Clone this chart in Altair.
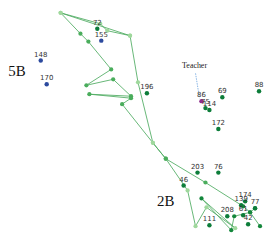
import altair as alt
import pandas as pd

# ---- data (same units on both axes, y grows downward) ----
# movement trajectory A
path_a_x = [131, 61, 81, 89, 112, 87, 114, 132, 90, 132, 123, 154, 167, 189, 197, 208, 237, 203, 233, 236, 252, 262]
path_a_y = [35, 12, 33, 41, 69, 85, 79, 96, 94, 98, 104, 143, 159, 191, 227, 208, 229, 199, 231, 217, 213, 227]
path_a_shade = ["l", "l", "m", "m", "m", "m", "m", "m", "m", "m", "m", "l", "m", "l", "l", "l", "l", "d", "d", "d", "d", "d"]
# movement trajectory B
path_b_x = [61, 101, 108, 131, 139, 154, 167, 207, 245, 252, 257]
path_b_y = [12, 23, 30, 35, 82, 143, 159, 183, 207, 213, 209]
path_b_shade = ["l", "l", "l", "l", "l", "l", "m", "m", "d", "d", "d"]

# students of class 5B
b5_ids = ["148", "170", "155"]
b5_x = [41, 47, 102]
b5_y = [60, 84, 40]
# students of class 2B
b2_ids = ["72", "196", "69", "88", "75", "114", "172", "203", "76", "46",
          "174", "139", "77", "61", "208", "42", "111"]
b2_x = [98, 148, 224, 261, 207, 211, 220, 199, 220, 185, 247, 243, 257, 245, 229, 250, 211]
b2_y = [28, 93, 97, 91, 108, 110, 129, 173, 173, 186, 202, 206, 209, 216, 217, 225, 226]
# teacher
t_ids = ["86"]
t_x = [203]
t_y = [101]

# group captions
cap_text = ["5B", "2B"]
cap_x = [17, 167]
cap_y = [71, 202]
teacher_caption = "Teacher"
teacher_cap_x, teacher_cap_y = 196, 66

# ---- tables ----
rows = []
for name, xs, ys, sh in [("a", path_a_x, path_a_y, path_a_shade), ("b", path_b_x, path_b_y, path_b_shade)]:
    for i, (x, y, s) in enumerate(zip(xs, ys, sh)):
        rows.append({"path": name, "step": i, "x": x, "y": y, "shade": s})
paths = pd.DataFrame(rows)

srows = []
for grp, ids, xs, ys in [("5B", b5_ids, b5_x, b5_y), ("2B", b2_ids, b2_x, b2_y), ("T", t_ids, t_x, t_y)]:
    for i, x, y in zip(ids, xs, ys):
        srows.append({"id": i, "x": x, "y": y, "grp": grp})
students = pd.DataFrame(srows)

caps = pd.DataFrame({"t": cap_text, "x": cap_x, "y": cap_y})
tcap = pd.DataFrame({"t": [teacher_caption], "x": [teacher_cap_x], "y": [teacher_cap_y]})
arrow = pd.DataFrame({"x": [teacher_cap_x + 1, t_x[0] - 2], "y": [teacher_cap_y + 7, t_y[0] - 3], "o": [0, 1]})

X = alt.X("x:Q", axis=None, scale=alt.Scale(domain=[8, 264], nice=False, zero=False))
Y = alt.Y("y:Q", axis=None, scale=alt.Scale(domain=[8, 233], nice=False, zero=False, reverse=True))

lines = alt.Chart(paths).mark_line(color="#4dab60", strokeWidth=1, opacity=0.85).encode(
    x=X, y=Y, detail="path:N", order="step:Q")

verts = alt.Chart(paths).mark_circle(size=18, opacity=1).encode(
    x=X, y=Y,
    color=alt.Color("shade:N", legend=None,
                    scale=alt.Scale(domain=["l", "m", "d"], range=["#9fd89c", "#4aad5c", "#14873c"])))

arrow_line = alt.Chart(arrow).mark_line(color="#88b4e4", strokeWidth=1, strokeDash=[1.5, 1]).encode(
    x=X, y=Y, order="o:Q")

dots = alt.Chart(students).mark_circle(size=20, opacity=1).encode(
    x=X, y=Y,
    color=alt.Color("grp:N", legend=None,
                    scale=alt.Scale(domain=["5B", "2B", "T"], range=["#2c4a9e", "#0d7d3a", "#8e2e8c"])))

labels = alt.Chart(students).mark_text(fontSize=7, font="DejaVu Sans", color="#333333", dy=-6).encode(
    x=X, y=Y, text="id:N")

caption = alt.Chart(caps).mark_text(fontSize=15, font="Liberation Serif", color="#111111").encode(
    x=X, y=Y, text="t:N")

tcaption = alt.Chart(tcap).mark_text(fontSize=8, font="Liberation Serif", color="#222222").encode(
    x=X, y=Y, text="t:N")

chart = alt.layer(lines, verts, arrow_line, dots, labels, caption, tcaption).resolve_scale(
    color="independent"
).properties(
    width=256, height=225, padding=0
).configure_view(stroke=None)

chart.save("out.html", embed_options={"renderer": "svg", "actions": False})
